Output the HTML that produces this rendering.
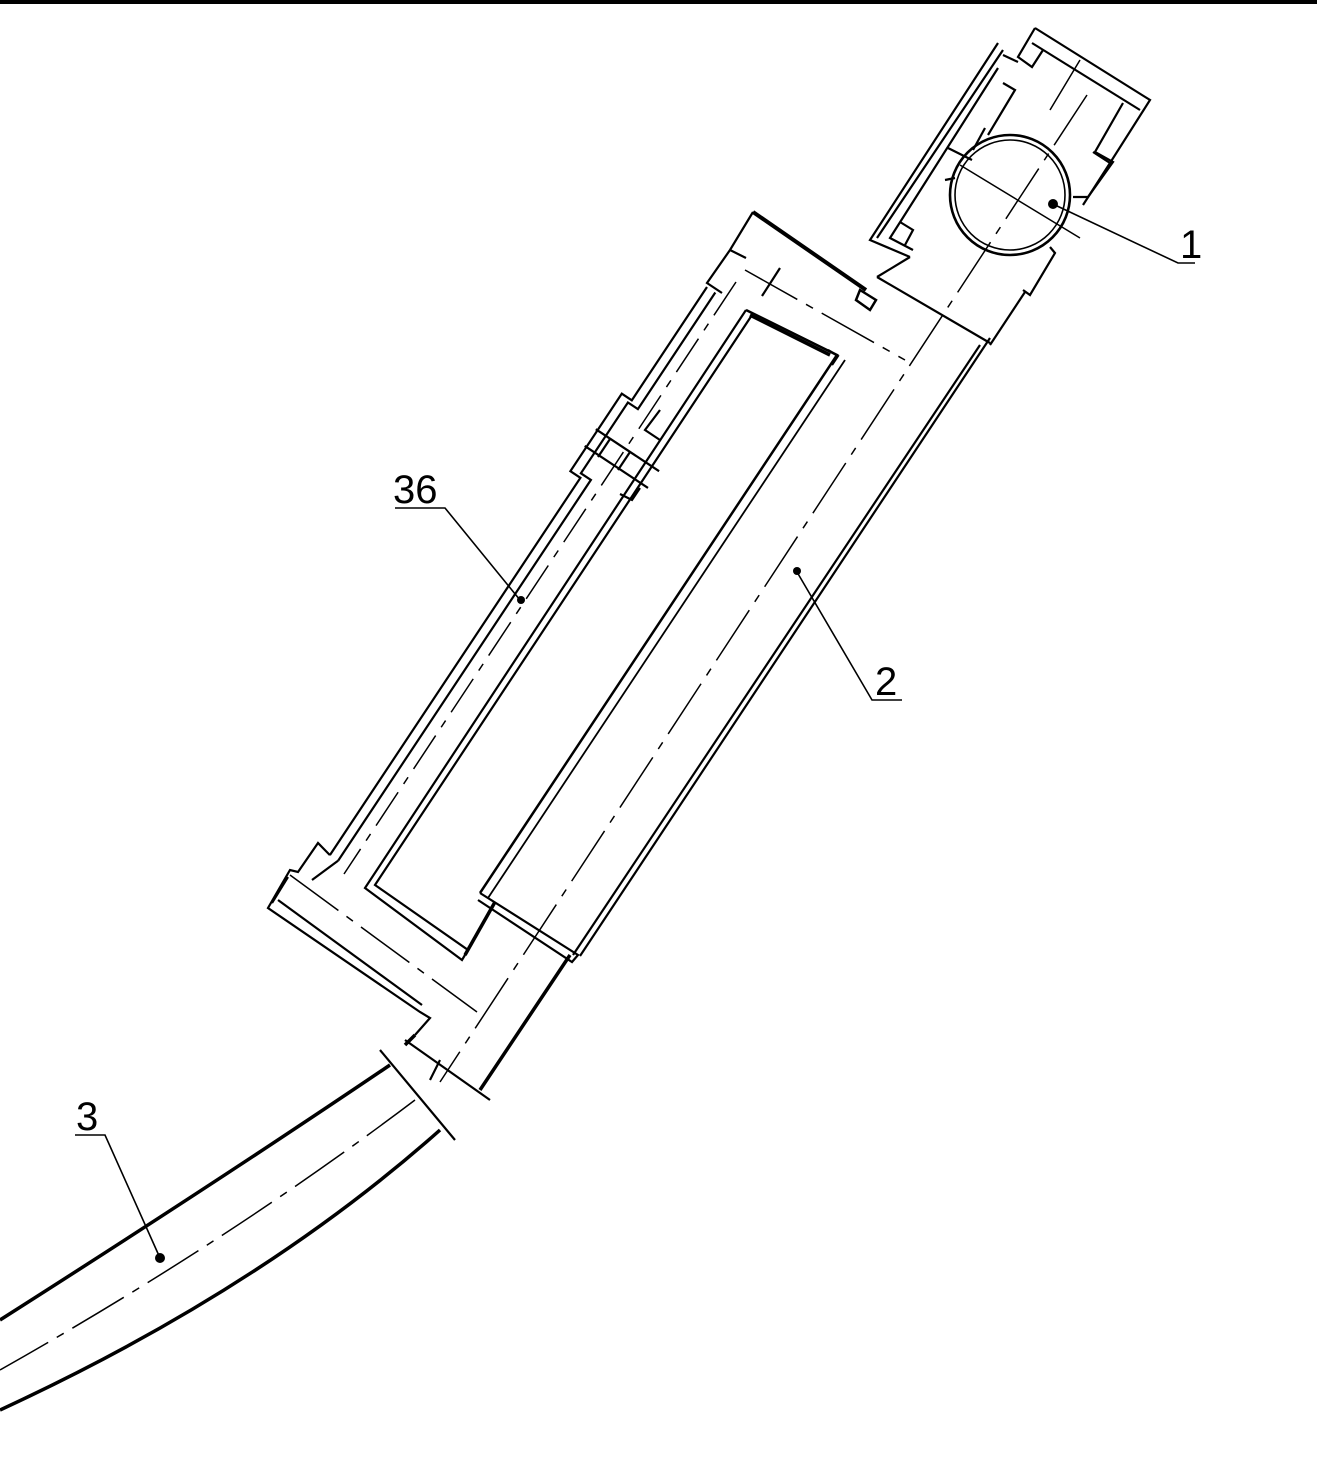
<!DOCTYPE html>
<html><head><meta charset="utf-8"><style>
html,body{margin:0;padding:0;background:#fff}
svg{display:block}
text{font-family:"Liberation Sans",sans-serif;font-size:40px;fill:#000}
</style></head><body>
<svg width="1317" height="1470" viewBox="0 0 1317 1470" xmlns="http://www.w3.org/2000/svg">
<rect width="1317" height="1470" fill="#fff"/>
<line x1="0" y1="2" x2="1317" y2="2" stroke="#000" stroke-width="4"/>
<g fill="none" stroke="#000" stroke-width="2.2" stroke-linejoin="miter">
<!-- head 1 -->
<polyline points="1035,28 1150,100 1110,163 1093,152"/>
<line x1="1032" y1="43" x2="1140" y2="110"/>
<polyline points="1123,103 1095,152 1113,162 1088,197 1073,197"/>
<polyline points="1035,28 1018,57 1032,67 1043,50"/>
<polyline points="998,43 870,240 910,257"/>
<polyline points="1003,50 877,238"/>
<polyline points="1018,62 1003,55"/>
<polyline points="998,68 890,238 913,250"/>
<polyline points="1003,83 1015,90 1000,115 988,135"/>
<polyline points="900,222 913,230 905,245"/>
<polyline points="985,128 973,150"/>
<polyline points="1050,247 1055,253 1030,295 1023,290"/>
<line x1="1025" y1="292" x2="990" y2="345"/>
<line x1="1110" y1="163" x2="1083" y2="205"/>
<line x1="877" y1="277" x2="990" y2="343"/>
<line x1="910" y1="257" x2="877" y2="277"/>
<line x1="1080" y1="60" x2="1050" y2="110" stroke-width="1.5"/>
<circle cx="1010" cy="195" r="60" stroke-width="2.6"/>
<circle cx="1010" cy="195" r="55" stroke-width="1.6"/>
<line x1="960" y1="165" x2="1080" y2="238" stroke-width="1.5"/>
<line x1="948" y1="148" x2="972" y2="160"/>
<line x1="945" y1="180" x2="955" y2="178"/>
<!-- top flange -->
<line x1="753" y1="212" x2="866" y2="290" stroke-width="4"/>
<polyline points="753,212 730,250 707,283 722,293"/>
<line x1="730" y1="250" x2="746" y2="258"/>
<polygon points="860,290 876,300 870,310 856,300" stroke-width="2.5"/>
<line x1="780" y1="268" x2="762" y2="296"/>
<!-- outer cylinder 36 walls -->
<polyline points="707,287 631.8,400.3 621.8,393.7 570.4,471.2 580.4,477.8 329.9,855.1"/>
<polyline points="715.3,292.5 637.9,409.1 627.9,402.5 580.9,473.3 590.9,479.9 338.2,860.6"/>
<polyline points="595.8,429.2 659.1,471.2"/>
<polyline points="584.7,445.9 648,487.9"/>
<polyline points="610,439 598,457"/>
<polyline points="630,452 618,470"/>
<polyline points="660,440 645,430 660,410"/>
<polyline points="640,488 632,500 620,494"/>
<path d="M736,282 L344,874" stroke-width="1.5" stroke-dasharray="40,10,8,10"/>
<!-- bottom flange -->
<polyline points="329.9,855.1 318,843 298,872 290,870 268,908 420,1012 430,1018 415,1035"/>
<polyline points="338.2,860.6 312,880"/>
<polyline points="288,877 272,903"/>
<polyline points="278,900 422,1005"/>
<!-- inner window -->
<polyline points="746,310 837,355 480,893" stroke-width="2.5"/>
<line x1="845" y1="360" x2="488" y2="898" stroke-width="1.8"/>
<polyline points="746,310 365,888 462,960 468,950 375,885 752,315"/>
<polyline points="828,350 838,356 832,365"/>
<line x1="750" y1="315" x2="830" y2="355" stroke-width="3.5"/>
<!-- tube 2 -->
<line x1="990" y1="338" x2="580" y2="956" stroke-width="2.2"/>
<line x1="980" y1="345" x2="573" y2="955" stroke-width="2.2"/>
<polyline points="480,893 578,955 572,962 478,900"/>
<line x1="495" y1="902" x2="465" y2="955" stroke-width="3.5"/>
<line x1="570" y1="955" x2="480" y2="1090" stroke-width="3.5"/>
<line x1="415" y1="1035" x2="405" y2="1045" stroke-width="3.5"/>
<line x1="405" y1="1040" x2="490" y2="1100"/>
<line x1="380" y1="1050" x2="455" y2="1140"/>
<line x1="440" y1="1060" x2="430" y2="1080"/>
<!-- curved tube 3 -->
<path d="M390,1065 Q220,1180 0,1320" stroke-width="3.5"/>
<path d="M440,1130 Q260,1290 0,1410" stroke-width="3.5"/>
<!-- center lines -->
<path d="M1087,95 L440,1082" stroke-width="1.5" stroke-dasharray="60,10,8,10"/>
<path d="M745,270 L905,360" stroke-width="1.5" stroke-dasharray="60,10,8,10"/>
<path d="M290,875 L477,1012" stroke-width="1.5" stroke-dasharray="60,10,8,10"/>
<path d="M415,1100 Q230,1240 0,1370" stroke-width="1.5" stroke-dasharray="60,10,8,10"/>
<!-- leaders -->
<polyline points="1055,205 1178,263 1195,263" stroke-width="1.6"/>
<polyline points="797,572 872,700 902,700" stroke-width="1.6"/>
<polyline points="520,600 445,508 395,508" stroke-width="1.6"/>
<polyline points="160,1258 105,1135 75,1135" stroke-width="1.6"/>
</g>
<g fill="#000">
<circle cx="1053" cy="204" r="5"/>
<circle cx="797" cy="571" r="4"/>
<circle cx="521" cy="600" r="4"/>
<circle cx="160" cy="1258" r="5"/>
</g>
<text x="1180" y="258">1</text>
<text x="875" y="695">2</text>
<text x="393" y="503">36</text>
<text x="76" y="1130">3</text>
</svg>
</body></html>
